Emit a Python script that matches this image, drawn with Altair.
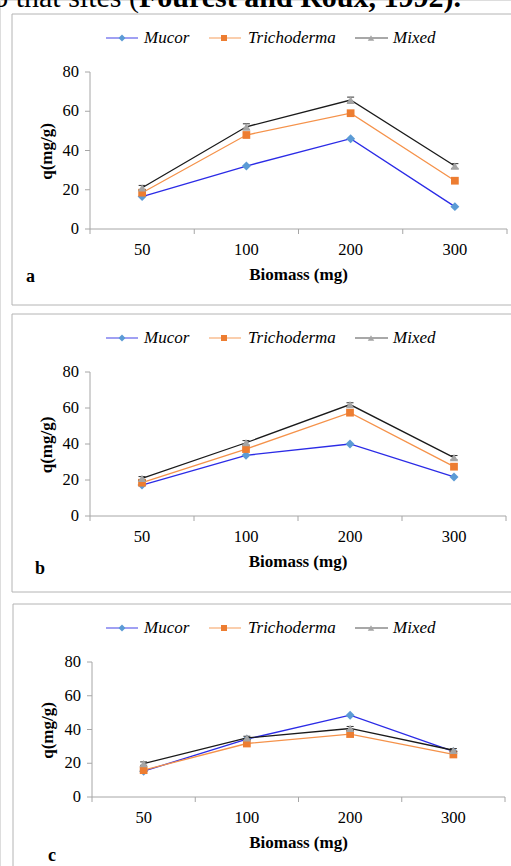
import altair as alt
import pandas as pd

# ---------------- data ----------------
biomass = ["50", "100", "200", "300"]
series = ["Mucor", "Trichoderma", "Mixed"]
yticks = [0, 20, 40, 60, 80]

a_mucor = [16.5, 32.1, 46.0, 11.4]
a_tricho = [18.5, 47.9, 59.0, 24.6]
a_mixed = [21.0, 52.1, 65.7, 32.1]
a_mixed_err = [1.2, 1.5, 1.5, 1.2]

b_mucor = [17.2, 33.7, 40.0, 21.7]
b_tricho = [18.5, 37.2, 57.4, 27.4]
b_mixed = [20.9, 40.7, 61.9, 32.4]
b_mixed_err = [1.0, 1.2, 1.0, 1.2]

c_mucor = [15.3, 34.3, 48.5, 27.0]
c_tricho = [15.9, 31.7, 37.3, 25.2]
c_mixed = [19.8, 35.0, 40.6, 27.7]
c_mixed_err = [1.0, 1.0, 1.2, 1.0]

panel_values = {
    "a": {"Mucor": a_mucor, "Trichoderma": a_tricho, "Mixed": a_mixed},
    "b": {"Mucor": b_mucor, "Trichoderma": b_tricho, "Mixed": b_mixed},
    "c": {"Mucor": c_mucor, "Trichoderma": c_tricho, "Mixed": c_mixed},
}
panel_err = {"a": a_mixed_err, "b": b_mixed_err, "c": c_mixed_err}

header_regular = "o that sites ("
header_bold = "Fourest and Roux, 1992)."
x_title = "Biomass (mg)"
y_title = "q(mg/g)"

# ---------------- styles / layout ----------------
FONT = "Liberation Serif"
AXIS_COLOR = "#a6a6a6"
BOX_COLOR = "#b4b4b4"
line_colors = {"Mucor": "#2b2be6", "Trichoderma": "#f5924a", "Mixed": "#1a1a1a"}
marker_colors = {"Mucor": "#5b9bd5", "Trichoderma": "#ed7d31", "Mixed": "#a5a5a5"}
shapes = {"Mucor": "diamond", "Trichoderma": "square", "Mixed": "triangle-up"}
sizes = {"Mucor": 80, "Trichoderma": 60, "Mixed": 70}
legend_pos = {  # line start, line end, marker, text start
    "Mucor": (106, 138, 122, 144),
    "Trichoderma": (209, 241, 224, 248),
    "Mixed": (355, 388, 371, 393),
}

geo = {
    "a": dict(x0=90, x1=507, y0=229, y80=72, box=(12, 14, 540, 305), leg=38, letter=(26, 277), ytx=47),
    "b": dict(x0=90, x1=506, y0=516, y80=372, box=(12, 314, 540, 592), leg=338, letter=(35, 569), ytx=47),
    "c": dict(x0=92, x1=505, y0=797, y80=662, box=(13, 604, 540, 900), leg=628, letter=(48, 856), ytx=48),
}

one = pd.DataFrame({"k": [0]})
layers = []

# header text (page crop)
layers.append(alt.Chart(one).mark_text(font=FONT, fontSize=30, align="right", baseline="alphabetic",
                                       color="black", clip=True).encode(
    x=alt.value(139), y=alt.value(7), text=alt.value(header_regular)))
layers.append(alt.Chart(one).mark_text(font=FONT, fontSize=30, fontWeight="bold", align="left",
                                       baseline="alphabetic", color="black", clip=True).encode(
    x=alt.value(139), y=alt.value(7), text=alt.value(header_bold)))

for p, g in geo.items():
    xs = alt.Scale(domain=[-0.5, len(biomass) - 0.5], range=[g["x0"], g["x1"]], nice=False, zero=False)
    ys = alt.Scale(domain=[0, 80], range=[g["y0"], g["y80"]], nice=False, zero=False)

    rows = []
    for s in series:
        for i, b in enumerate(biomass):
            rows.append({"series": s, "biomass": b, "idx": i, "q": panel_values[p][s][i]})
    df = pd.DataFrame(rows)
    err = pd.DataFrame({"idx": list(range(len(biomass))),
                        "lo": [v - e for v, e in zip(panel_values[p]["Mixed"], panel_err[p])],
                        "hi": [v + e for v, e in zip(panel_values[p]["Mixed"], panel_err[p])]})
    xlab = pd.DataFrame({"idx": list(range(len(biomass))), "lab": biomass, "z": 0})
    bounds = pd.DataFrame({"b": [i - 0.5 for i in range(len(biomass) + 1)], "z": 0})
    ylab = pd.DataFrame({"t": yticks, "lab": [str(t) for t in yticks], "xl": -0.5})
    dom = pd.DataFrame({"xa": [-0.5], "xb": [len(biomass) - 0.5], "ya": [0], "yb": [80]})

    X = lambda f: alt.X(f, scale=xs, axis=None)
    Y = lambda f: alt.Y(f, scale=ys, axis=None)

    sub = []
    # axes
    sub.append(alt.Chart(dom).mark_rule(color=AXIS_COLOR, strokeWidth=1).encode(
        x=X("xa:Q"), x2="xb:Q", y=Y("ya:Q")))
    sub.append(alt.Chart(dom).mark_rule(color=AXIS_COLOR, strokeWidth=1).encode(
        x=X("xa:Q"), y=Y("ya:Q"), y2="yb:Q"))
    sub.append(alt.Chart(ylab).mark_rule(color=AXIS_COLOR, strokeWidth=1, xOffset=-5).encode(
        x=X("xl:Q"), x2="xl:Q", y=Y("t:Q")))
    sub.append(alt.Chart(ylab).mark_text(font=FONT, fontSize=16.5, align="right", baseline="middle",
                                         color="black", dx=-11).encode(
        x=X("xl:Q"), y=Y("t:Q"), text="lab:N"))
    sub.append(alt.Chart(bounds).mark_rule(color=AXIS_COLOR, strokeWidth=1, y2Offset=5).encode(
        x=X("b:Q"), y=Y("z:Q"), y2="z:Q"))
    sub.append(alt.Chart(xlab).mark_text(font=FONT, fontSize=16.5, align="center", baseline="middle",
                                         color="black", dy=21).encode(
        x=X("idx:Q"), y=Y("z:Q"), text="lab:N"))
    # series
    for s in series:
        d = df[df["series"] == s]
        sub.append(alt.Chart(d).mark_line(color=line_colors[s], strokeWidth=1.3).encode(
            x=X("idx:Q"), y=Y("q:Q")))
        if s == "Mixed":
            sub.append(alt.Chart(err).mark_rule(color="#333333", strokeWidth=1).encode(
                x=X("idx:Q"), y=Y("lo:Q"), y2="hi:Q"))
            for f in ["lo", "hi"]:
                sub.append(alt.Chart(err).mark_rule(color="#333333", strokeWidth=1,
                                                    xOffset=-3.5, x2Offset=3.5).encode(
                    x=X("idx:Q"), x2="idx:Q", y=Y(f + ":Q")))
        sub.append(alt.Chart(d).mark_point(filled=True, shape=shapes[s], size=sizes[s],
                                           color=marker_colors[s], opacity=1).encode(
            x=X("idx:Q"), y=Y("q:Q")))
    layers.append(alt.layer(*sub))

    # decorations: border, legend, titles, letter
    bx0, by0, bx1, by1 = g["box"]
    layers.append(alt.Chart(one).mark_rect(fillOpacity=0, stroke=BOX_COLOR, strokeWidth=1).encode(
        x=alt.value(bx0), x2=alt.value(bx1), y=alt.value(by0), y2=alt.value(by1)))
    for s in series:
        l0, l1, m, t = legend_pos[s]
        layers.append(alt.Chart(one).mark_rule(color=line_colors[s], strokeWidth=1.2, opacity=0.75).encode(
            x=alt.value(l0), x2=alt.value(l1), y=alt.value(g["leg"])))
        layers.append(alt.Chart(one).mark_point(filled=True, shape=shapes[s], size=sizes[s] * 0.6,
                                                color=marker_colors[s], opacity=1).encode(
            x=alt.value(m), y=alt.value(g["leg"])))
        layers.append(alt.Chart(one).mark_text(font=FONT, fontSize=17, fontStyle="italic", align="left",
                                               baseline="middle", color="black").encode(
            x=alt.value(t), y=alt.value(g["leg"]), text=alt.value(s)))
    layers.append(alt.Chart(one).mark_text(font=FONT, fontSize=17, fontWeight="bold", align="center",
                                           baseline="middle", color="black").encode(
        x=alt.value((g["x0"] + g["x1"]) / 2), y=alt.value(g["y0"] + 46), text=alt.value(x_title)))
    layers.append(alt.Chart(one).mark_text(font=FONT, fontSize=17, fontWeight="bold", align="center",
                                           baseline="middle", angle=270, color="black").encode(
        x=alt.value(g["ytx"]), y=alt.value((g["y0"] + g["y80"]) / 2 + 1), text=alt.value(y_title)))
    lx, ly = g["letter"]
    layers.append(alt.Chart(one).mark_text(font=FONT, fontSize=18, fontWeight="bold", align="left",
                                           baseline="middle", color="black").encode(
        x=alt.value(lx), y=alt.value(ly), text=alt.value(p)))

chart = alt.layer(*layers).resolve_scale(x="independent", y="independent").properties(
    width=511, height=866, autosize=alt.AutoSizeParams(type="none"), padding=0
).configure_view(stroke=None).configure(background="white")

chart.save("out.html", embed_options={"renderer": "svg", "actions": False})
